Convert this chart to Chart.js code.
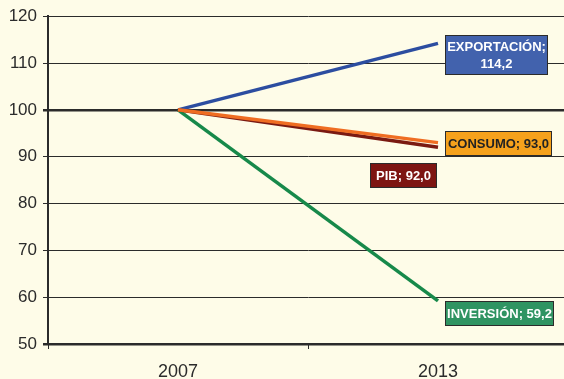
<!DOCTYPE html>
<html>
<head>
<meta charset="utf-8">
<script src="https://cdn.jsdelivr.net/npm/chart.js@4/dist/chart.umd.min.js"></script>
<style>
  html, body { margin: 0; padding: 0; background: #fefce8; overflow: hidden; }
  #wrap { width: 568px; height: 379px; }
</style>
</head>
<body>
<div id="wrap"><canvas id="indexChart"></canvas></div>
<script>
// Data (index, 2007 = 100)
const years = ['2007', '2013']
const exportacion = [100, 114.2]
const consumo = [100, 93.0]
const pib = [100, 92.0]
const inversion = [100, 59.2]
const yTicks = [50, 60, 70, 80, 90, 100, 110, 120]

// End labels: text lines, box colour, offset from the 2013 point
const endLabels = [
  { series: 'EXPORTACIÓN', lines: ['EXPORTACIÓN;', '114,2'], fill: '#4262ad', text: '#ffffff', dx: 7, dy: -8, w: 103, h: 40 },
  { series: 'CONSUMO', lines: ['CONSUMO; 93,0'], fill: '#f5a11c', text: '#222222', dx: 7, dy: -12, w: 107, h: 25 },
  { series: 'PIB', lines: ['PIB; 92,0'], fill: '#7d1512', text: '#ffffff', dx: -68, dy: 16, w: 67, h: 25 },
  { series: 'INVERSIÓN', lines: ['INVERSIÓN; 59,2'], fill: '#2f9462', text: '#ffffff', dx: 7, dy: 0, w: 109, h: 25 }
]

const labelBoxes = {
  id: 'labelBoxes',
  afterDatasetsDraw(chart) {
    const { ctx } = chart
    endLabels.forEach((lab) => {
      const idx = chart.data.datasets.findIndex((d) => d.label === lab.series)
      const pt = chart.getDatasetMeta(idx).data[1]
      const x = Math.round(pt.x + lab.dx)
      const y = Math.round(pt.y + lab.dy)
      ctx.save()
      ctx.fillStyle = lab.fill
      ctx.fillRect(x, y, lab.w, lab.h)
      ctx.strokeStyle = '#2b2b2b'
      ctx.lineWidth = 1
      ctx.strokeRect(x + 0.5, y + 0.5, lab.w - 1, lab.h - 1)
      ctx.fillStyle = lab.text
      ctx.font = 'bold 13px "Liberation Sans", Arial, sans-serif'
      ctx.textAlign = 'center'
      ctx.textBaseline = 'middle'
      const lh = 17
      const start = y + lab.h / 2 - ((lab.lines.length - 1) * lh) / 2
      lab.lines.forEach((t, i) => ctx.fillText(t, x + lab.w / 2, start + i * lh + 1))
      ctx.restore()
    })
  }
}

const ctx = document.getElementById('indexChart').getContext('2d')

new Chart(ctx, {
  type: 'line',
  data: {
    labels: years,
    datasets: [
      { label: 'INVERSIÓN', data: inversion, borderColor: '#17894a', order: 4 },
      { label: 'EXPORTACIÓN', data: exportacion, borderColor: '#2c4da0', order: 3 },
      { label: 'PIB', data: pib, borderColor: '#7a1a12', order: 2 },
      { label: 'CONSUMO', data: consumo, borderColor: '#ef6d22', order: 1 }
    ]
  },
  options: {
    responsive: true,
    maintainAspectRatio: false,
    animation: false,
    layout: { padding: { top: 15, right: 0, left: 0, bottom: 0 } },
    elements: {
      line: { borderWidth: 3.5, tension: 0, fill: false },
      point: { radius: 0 }
    },
    plugins: {
      legend: { display: false },
      tooltip: { enabled: false }
    },
    scales: {
      x: {
        offset: true,
        grid: {
          offset: true,
          drawOnChartArea: false,
          color: '#2b2b2b',
          tickLength: 5
        },
        border: { display: false },
        ticks: {
          color: '#2b2b2b',
          padding: 12,
          font: { family: '"Liberation Sans", Arial, sans-serif', size: 18 }
        },
        afterFit: (scale) => { scale.height = 35 }
      },
      y: {
        min: 50,
        max: 120,
        afterBuildTicks: (scale) => {
          scale.ticks = yTicks.map((v) => ({ value: v }))
        },
        grid: {
          color: '#2b2b2b',
          lineWidth: (c) => (c.tick && (c.tick.value === 100 || c.tick.value === 50) ? 2.5 : 1),
          tickLength: 5
        },
        border: { display: true, color: '#2b2b2b', width: 2 },
        ticks: {
          color: '#2b2b2b',
          padding: 6,
          font: { family: '"Liberation Sans", Arial, sans-serif', size: 17 }
        },
        afterFit: (scale) => { scale.width = 48 }
      }
    }
  },
  plugins: [labelBoxes]
})
</script>
</body>
</html>
